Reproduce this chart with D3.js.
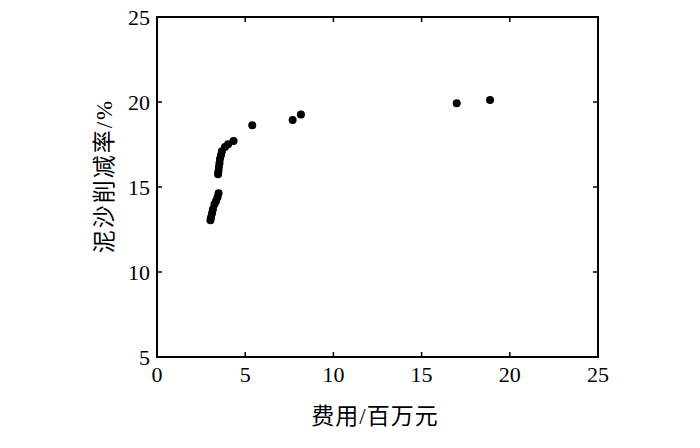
<!DOCTYPE html>
<html>
  <head>
    <meta charset='UTF-8'>
    <style>
    body { margin: 0; background: #fff; }
    svg { background: #fff; }
    text { font-family: 'Liberation Serif', 'Noto Sans CJK SC', serif; fill: #000; }
    </style>
  </head>
  <body>
  <script src='https://cdnjs.cloudflare.com/ajax/libs/d3/7.8.5/d3.min.js'></script>
  <script>

    // cost (million yuan) vs sediment reduction rate (%)
    var cost = [3.03, 3.06, 3.12, 3.17, 3.26, 3.34, 3.43, 3.49,
                3.46, 3.48, 3.51, 3.54, 3.57, 3.63, 3.68, 3.85, 4.03, 4.34,
                5.40, 7.69, 8.16, 16.99, 18.88];
    var reduction = [13.04, 13.21, 13.45, 13.69, 13.98, 14.16, 14.40, 14.63,
                     15.75, 15.93, 16.17, 16.40, 16.64, 16.88, 17.11, 17.35, 17.52, 17.70,
                     18.63, 18.94, 19.27, 19.92, 20.12];
    var xTicks = [0, 5, 10, 15, 20, 25];
    var yTicks = [5, 10, 15, 20, 25];

    var pL = 157, pR = 598, pT = 17, pB = 357;

    var x = d3.scaleLinear().domain([0, 25]).range([pL, pR]);
    var y = d3.scaleLinear().domain([5, 25]).range([pB, pT]);

    var svg = d3.select('body')
      .append('svg')
      .attr('width', 700)
      .attr('height', 448);

    // ticks (inward, on all four sides)
    var tl = 5;
    var g = svg.append('g').attr('stroke', '#000').attr('stroke-width', 1.5);
    xTicks.forEach(function(t) {
      g.append('line').attr('x1', x(t)).attr('x2', x(t)).attr('y1', pB).attr('y2', pB - tl);
      g.append('line').attr('x1', x(t)).attr('x2', x(t)).attr('y1', pT).attr('y2', pT + tl);
    });
    yTicks.forEach(function(t) {
      g.append('line').attr('y1', y(t)).attr('y2', y(t)).attr('x1', pL).attr('x2', pL + tl);
      g.append('line').attr('y1', y(t)).attr('y2', y(t)).attr('x1', pR).attr('x2', pR - tl);
    });

    svg.append('rect')
      .attr('x', pL).attr('y', pT)
      .attr('width', pR - pL).attr('height', pB - pT)
      .attr('fill', 'none').attr('stroke', '#000').attr('stroke-width', 2);

    svg.selectAll('.xt').data(xTicks).enter().append('text')
      .attr('x', function(d) { return x(d); })
      .attr('y', 382)
      .attr('text-anchor', 'middle')
      .attr('font-size', 22)
      .text(function(d) { return d; });

    svg.selectAll('.yt').data(yTicks).enter().append('text')
      .attr('x', 150)
      .attr('y', function(d) { return y(d) + 8; })
      .attr('text-anchor', 'end')
      .attr('font-size', 22)
      .text(function(d) { return d; });

    svg.selectAll('circle')
      .data(cost)
      .enter()
      .append('circle')
      .attr('cx', function(d) { return x(d); })
      .attr('cy', function(d, i) { return y(reduction[i]); })
      .attr('r', 4)
      .attr('fill', '#000');

    svg.append('text')
      .attr('x', 375).attr('y', 424)
      .attr('text-anchor', 'middle')
      .attr('font-size', 23)
      .attr('letter-spacing', 1)
      .text('费用/百万元');

    svg.append('text')
      .attr('transform', 'translate(112,176) rotate(-90)')
      .attr('text-anchor', 'middle')
      .attr('font-size', 23)
      .attr('letter-spacing', 2)
      .text('泥沙削减率/%');

  </script>
  </body>
</html>
